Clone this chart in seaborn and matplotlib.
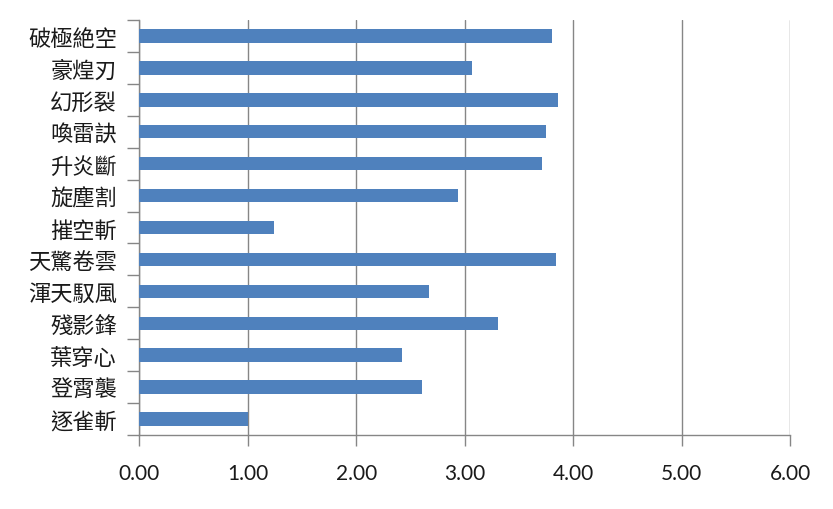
import matplotlib
matplotlib.use("Agg")
import matplotlib.pyplot as plt
import seaborn as sns
import pandas as pd
import numpy as np
from matplotlib.ticker import FixedLocator

categories = ["破極絶空", "豪煌刃", "幻形裂", "喚雷訣", "升炎斷", "旋塵割", "摧空斬",
              "天驚卷雲", "渾天馭風", "殘影鋒", "葉穿心", "登霄襲", "逐雀斬"]
values = [3.81, 3.07, 3.86, 3.75, 3.71, 2.94, 1.24, 3.84, 2.67, 3.31, 2.42, 2.61, 1.00]
x_ticks = [0, 1, 2, 3, 4, 5, 6]
x_ticklabels = ["0.00", "1.00", "2.00", "3.00", "4.00", "5.00", "6.00"]

sns.set_theme(style="white")
plt.rcParams['font.family'] = ['Noto Sans CJK TC', 'DejaVu Sans']

df = pd.DataFrame({"name": categories, "value": values})

fig = plt.figure(figsize=(8.33, 5.10), dpi=100)
ax = fig.add_axes([0.1672, 0.1451, 0.9484 - 0.1672, 0.9588 - 0.1451])

sns.barplot(data=df, y="name", x="value", order=categories, orient="h",
            color="#4F81BD", saturation=1, width=0.42, linewidth=0,
            ax=ax, zorder=3)

grid_c = "#868686"
ax.set_xlim(0, 6)
ax.set_ylim(len(categories) - 0.5, -0.5)
ax.set_xticks(x_ticks)
ax.set_xticklabels(x_ticklabels, family=['Lato', 'DejaVu Sans'], fontsize=15, color="#1a1a1a")
ax.xaxis.grid(True, color=grid_c, linewidth=1.0, zorder=0)
ax.yaxis.grid(False)
ax.set_xlabel("")
ax.set_ylabel("")

for side in ["top", "right"]:
    ax.spines[side].set_visible(False)
for side in ["left", "bottom"]:
    ax.spines[side].set_color(grid_c)
    ax.spines[side].set_linewidth(1.0)

ax.tick_params(axis="x", which="major", direction="out", length=8, width=1,
               color=grid_c, pad=12, bottom=True)
ax.tick_params(axis="y", which="major", length=0, pad=16, labelsize=16, labelcolor="#1a1a1a")
ax.yaxis.set_minor_locator(FixedLocator(np.arange(-0.5, len(categories), 1.0)))
ax.tick_params(axis="y", which="minor", direction="out", length=9, width=1,
               color=grid_c, left=True)

fig.savefig("out.png", dpi=100, facecolor="white")
